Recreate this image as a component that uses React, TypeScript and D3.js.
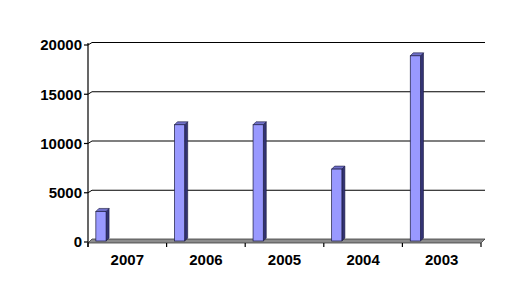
import React from "react";
import * as d3 from "d3";

const categories = ["2007", "2006", "2005", "2004", "2003"];
const values = [3000, 11800, 11800, 7300, 18800];
const yTicks = [0, 5000, 10000, 15000, 20000];

export default function App() {
  const W = 518, H = 283;
  const x0 = 88, x1 = 481;
  const dx = 4;
  const x = d3.scaleBand<string>().domain(categories).range([x0, x1]);
  const y = d3.scaleLinear().domain([0, 20000]).range([241, 44]);
  const bw = x.bandwidth();
  const barOff = bw * 0.1;
  const barW = bw * 0.13;
  const bdx = 3, bdy = 3;
  const font = "'Liberation Sans', Arial, sans-serif";
  return (
    <svg width={W} height={H} style={{ position: "fixed", left: 0, top: 0, background: "#fff" }}>
      <rect x={0} y={0} width={W} height={H} fill="#fff" />
      {yTicks.slice(1).map((t) => (
        <g key={t}>
          <line x1={x0 + dx} x2={x1 + dx} y1={y(t) - 1.5} y2={y(t) - 1.5} stroke="#000" strokeWidth={1.2} />
          <line x1={x0} x2={x0 + dx} y1={y(t) + 1} y2={y(t) - 1.5} stroke="#000" strokeWidth={1} />
        </g>
      ))}
      <polygon
        points={`${x0},${y(0) + 2} ${x1},${y(0) + 2} ${x1 + dx},${y(0) - 2} ${x0 + dx},${y(0) - 2}`}
        fill="#8c8c8c"
        stroke="#3a3a3a"
        strokeWidth={0.8}
      />
      {categories.map((c, i) => {
        const bx = (x(c) as number) + barOff;
        const top = y(values[i]);
        const bottom = y(0);
        return (
          <g key={c}>
            <polygon
              points={`${bx + barW},${top} ${bx + barW + bdx},${top - bdy} ${bx + barW + bdx},${bottom - bdy} ${bx + barW},${bottom}`}
              fill="#333373"
              stroke="#1a1a40"
              strokeWidth={0.6}
            />
            <polygon
              points={`${bx},${top} ${bx + bdx},${top - bdy} ${bx + barW + bdx},${top - bdy} ${bx + barW},${top}`}
              fill="#7070c8"
              stroke="#1a1a40"
              strokeWidth={0.6}
            />
            <rect x={bx} y={top} width={barW} height={bottom - top} fill="#9999ff" stroke="#1a1a40" strokeWidth={0.7} />
          </g>
        );
      })}
      <line x1={x0} x2={x0} y1={y(20000) - 1} y2={y(0) + 6} stroke="#000" strokeWidth={1.2} />
      {yTicks.map((t) => (
        <g key={t}>
          <line x1={x0 - 4} x2={x0} y1={y(t) + 1} y2={y(t) + 1} stroke="#000" strokeWidth={1.2} />
          <text x={x0 - 6} y={y(t) + 1} dy="0.36em" textAnchor="end" fontFamily={font} fontWeight="bold" fontSize={15} fill="#000">
            {t}
          </text>
        </g>
      ))}
      {[...categories.map((c) => x(c) as number), x1].map((tx, i) => (
        <line key={i} x1={tx} x2={tx} y1={y(0) + 2} y2={y(0) + 6} stroke="#000" strokeWidth={1.2} />
      ))}
      {categories.map((c) => (
        <text key={c} x={(x(c) as number) + bw / 2} y={265} textAnchor="middle" fontFamily={font} fontWeight="bold" fontSize={15} fill="#000">
          {c}
        </text>
      ))}
    </svg>
  );
}
